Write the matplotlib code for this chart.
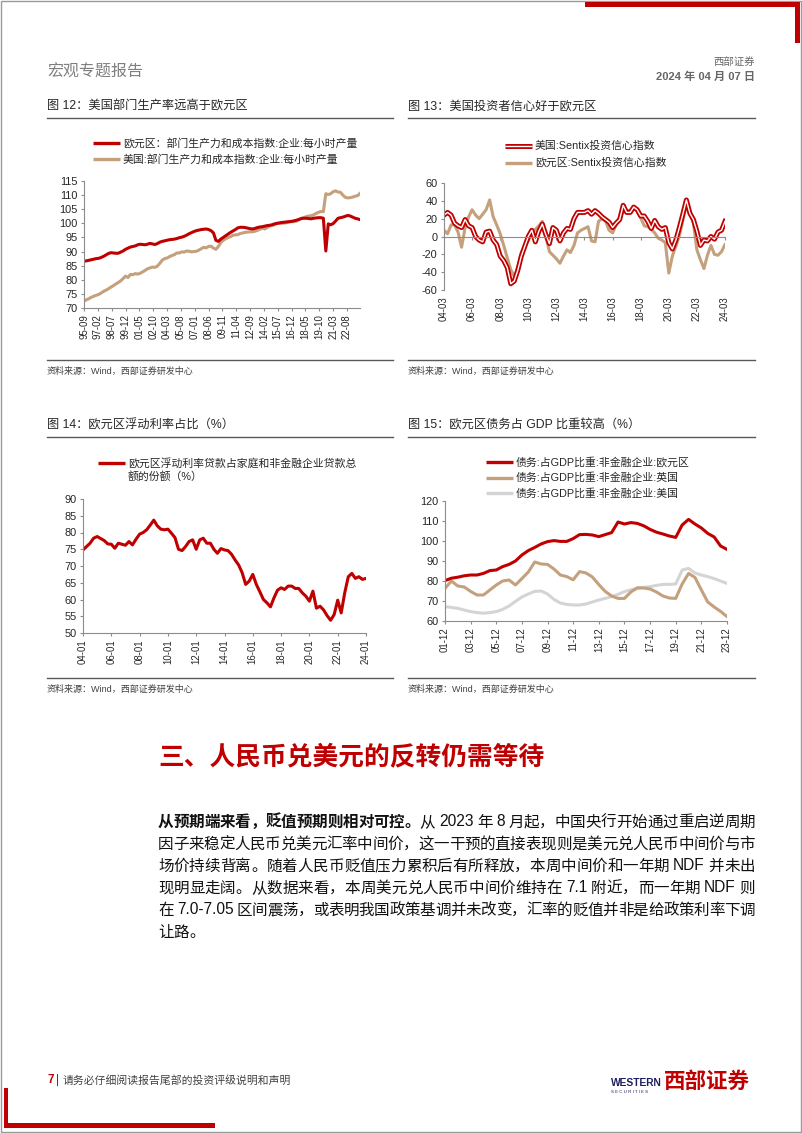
import re

import numpy as np
import pandas as pd
import matplotlib
matplotlib.use("Agg")
import matplotlib.pyplot as plt
import matplotlib.patheffects as pe
from matplotlib.lines import Line2D
from matplotlib.patches import Rectangle

# ---------------- data ----------------
# Fig 12: productivity, quarterly from 1995-09
prod_start = "1995-09"
prod_euro = [86.6, 86.7,
             86.9, 87.1, 87.3, 87.5, 87.6, 87.9, 88.3, 88.8, 89.3, 89.6, 89.5, 89.4,
             89.4, 89.8, 90.2, 90.8, 91.2, 91.6, 91.8, 92.0, 92.4, 92.6, 92.5, 92.4,
             92.6, 92.9, 92.7, 92.5, 92.8, 93.3, 93.6, 93.8, 94.0, 94.2, 94.3, 94.4,
             94.6, 94.9, 95.1, 95.4, 95.8, 96.3, 96.7, 97.1, 97.4, 97.6, 97.8, 97.9,
             98.0, 97.8, 97.4, 96.6, 94.0, 93.6, 94.4, 95.0, 95.6, 96.2, 96.8, 97.3,
             97.8, 98.4, 98.6, 98.6, 98.5, 98.3, 98.1, 98.0, 98.2, 98.5, 98.7, 98.8,
             99.0, 99.2, 99.3, 99.5, 99.8, 100.0, 100.1, 100.3, 100.4, 100.5, 100.6, 100.7,
             100.9, 101.1, 101.4, 101.7, 101.8, 101.8, 101.7, 101.6, 101.8, 101.9, 102.0, 102.0,
             101.8, 90.2, 99.8, 99.5, 99.9, 100.8, 101.8, 102.0, 102.2, 102.5, 102.8, 102.6,
             102.2, 101.8, 101.6, 101.3]
prod_us = [72.5, 72.9,
           73.3, 73.8, 74.2, 74.5, 74.8, 75.3, 75.9, 76.3, 76.8, 77.4, 77.9, 78.5,
           79.0, 79.6, 80.4, 81.3, 80.8, 81.9, 81.8, 82.2, 82.0, 82.3, 82.8, 83.3,
           83.9, 84.2, 84.5, 84.4, 84.8, 85.8, 86.9, 87.5, 87.7, 88.2, 88.6, 88.9,
           89.5, 89.5, 89.9, 89.8, 90.2, 90.1, 89.9, 90.0, 90.1, 90.5, 91.0, 91.5,
           91.3, 91.8, 91.9, 91.2, 90.8, 91.8, 93.2, 94.0, 94.5, 95.0, 95.3, 95.8,
           95.9, 96.0, 96.4, 96.6, 96.8, 96.9, 97.0, 97.0, 97.2, 97.5, 97.9, 98.3,
           98.0, 98.5, 99.1, 99.2, 99.5, 99.9, 100.2, 100.0, 100.1, 100.2, 100.5, 100.6,
           100.6, 100.8, 101.3, 101.8, 102.0, 102.4, 102.6, 102.7, 103.0, 103.5, 103.9, 104.2,
           104.1, 110.5, 110.2, 110.5, 111.2, 111.5, 111.1, 111.0, 110.0, 109.2, 109.0, 109.1,
           109.3, 109.6, 109.8, 110.6]
prod_ticks = ["95-09", "97-02", "98-07", "99-12", "01-05", "02-10", "04-03", "05-08",
              "07-01", "08-06", "09-11", "11-04", "12-09", "14-02", "15-07", "16-12",
              "18-05", "19-10", "21-03", "22-08"]

# Fig 13: Sentix, quarterly from 2004-03
sentix_start = "2004-03"
sentix_us = [24, 27, 24, 15, 12, 10, 19, 12, 10, 0, -4, -6, 5, 6, -4, -9,
             -22, -27, -35, -53, -50, -38, -22, -11, 0, 7, -6, 6, 14, 2, -8, 10,
             7, -5, 4, 9, 8, 20, 27, 27, 27, 29, 25, 29, 26, 22, 19, 16,
             10, 15, 19, 35, 27, 27, 33, 30, 23, 23, 17, 9, 18, 11, 8, 10,
             -7, -14, -4, 10, 25, 41, 26, 19, 6, -10, -4, -5, 0, -3, 5, 7, 17]
sentix_eu = [7, 3, 13, 13, 5, -12, 10, 22, 30, 24, 20, 25, 30, 41, 22, 13,
             3, -10, -24, -37, -45, -35, -18, -10, -5, 3, 8, 12, 17, 0, -17, -21,
             -25, -30, -22, -15, -18, -10, 4, 7, 9, 11, -5, -6, 17, 20, 17, 7,
             4, 13, 22, 28, 29, 29, 32, 30, 21, 12, 11, 8, 4, -2, -4, -7,
             -41, -22, -11, 1, 18, 36, 27, 15, -15, -26, -36, -21, -10, -20, -21, -17, -9]
sentix_ticks = ["04-03", "06-03", "08-03", "10-03", "12-03", "14-03", "16-03",
                "18-03", "20-03", "22-03", "24-03"]

# Fig 14: euro area floating-rate loan share (%), quarterly from 2004-01
float_start = "2004-01"
float_share = [74.8, 75.8, 76.8, 78.3, 78.8, 78.2, 77.6, 76.6, 76.5, 75.3, 76.8, 76.5,
               76.2, 77.3, 76.3, 78.0, 79.5, 80.0, 80.8, 82.2, 83.7, 82.0, 81.0, 80.8,
               81.0, 79.8, 78.5, 75.0, 74.6, 75.8, 77.3, 77.8, 75.0, 77.8, 78.3, 76.8,
               76.8, 75.0, 73.8, 75.2, 74.8, 74.6, 73.5, 71.8, 70.3, 68.0, 64.5, 65.5,
               67.5, 64.5, 62.3, 60.0, 59.0, 57.8, 60.5, 62.8, 63.5, 63.0, 64.0, 64.0,
               63.3, 63.3, 62.0, 61.0, 59.5, 62.5, 57.4, 58.0, 56.9, 55.2, 53.8, 55.5,
               59.8, 56.0, 62.0, 66.8, 67.8, 66.3, 66.8, 66.0, 66.3]
float_ticks = ["04-01", "06-01", "08-01", "10-01", "12-01", "14-01", "16-01",
               "18-01", "20-01", "22-01", "24-01"]

# Fig 15: non-financial corporate debt / GDP (%), half-yearly from 2001-12
debt_start = "2001-12"
debt_euro = [80.2, 81.4, 81.9, 82.6, 83.0, 83.0, 83.8, 85.2, 85.5, 87.2, 88.3, 90.0,
             93.0, 95.2, 96.8, 98.5, 99.7, 100.2, 99.8, 99.8, 101.2, 103.2, 103.3, 103.0,
             102.2, 103.2, 104.2, 109.5, 108.5, 109.2, 108.8, 107.6, 105.8, 104.4, 103.5, 102.5,
             101.8, 108.0, 110.8, 108.5, 106.5, 103.8, 102.0, 97.5, 95.8]
debt_uk = [76.3, 80.0, 77.5, 77.0, 74.8, 73.0, 73.0, 75.5, 78.0, 80.0, 80.5, 78.0,
           81.2, 84.5, 89.5, 88.5, 88.3, 86.0, 83.0, 82.2, 80.6, 84.7, 84.0, 82.0,
           78.2, 74.8, 72.5, 71.3, 71.3, 74.5, 76.6, 76.5, 76.0, 74.5, 72.5, 71.5,
           71.3, 78.5, 83.8, 81.8, 75.5, 69.5, 67.0, 64.8, 62.2]
debt_us = [67.2, 66.8, 66.3, 65.5, 64.7, 64.2, 63.9, 64.2, 64.7, 65.8, 67.5, 69.8,
           72.0, 73.5, 74.8, 75.0, 73.5, 70.8, 69.0, 68.3, 68.0, 68.0, 68.5, 69.5,
           70.5, 71.3, 72.2, 73.3, 74.7, 75.6, 76.3, 76.8, 77.2, 77.8, 78.3, 78.3,
           78.5, 85.5, 86.3, 84.0, 83.0, 82.2, 81.2, 80.0, 78.8]
debt_ticks = ["01-12", "03-12", "05-12", "07-12", "09-12", "11-12", "13-12",
              "15-12", "17-12", "19-12", "21-12", "23-12"]

body_lines = [
    [("从预期端来看，贬值预期则相对可控。", "bold"),
     ("从 2023 年 8 月起，中国央行开始通过重启逆周期", "normal")],
    [("因子来稳定人民币兑美元汇率中间价，这一干预的直接表现则是美元兑人民币中间价与市", "normal")],
    [("场价持续背离。随着人民币贬值压力累积后有所释放，本周中间价和一年期 NDF 并未出", "normal")],
    [("现明显走阔。从数据来看，本周美元兑人民币中间价维持在 7.1 附近，而一年期 NDF 则", "normal")],
    [("在 7.0-7.05 区间震荡，或表明我国政策基调并未改变，汇率的贬值并非是给政策利率下调", "normal")],
    [("让路。", "normal")],
]

# ---------------- style ----------------
W, H = 802, 1133
RED = "#C00000"
TAN = "#C4A07C"
LIGHT = "#D4D4D4"
AXIS = "#8C8C8C"
INK = "#262626"

plt.rcParams["font.family"] = ["Liberation Sans", "Noto Sans CJK SC"]
plt.rcParams["axes.unicode_minus"] = False

fig = plt.figure(figsize=(W / 100, H / 100), dpi=100)


def fx(x):
    return x / W


def fy(y):
    return 1 - y / H


def tick_dates(labels):
    out = []
    for lab in labels:
        yy, mm = lab.split("-")
        century = 1900 if int(yy) > 50 else 2000
        out.append(pd.Timestamp(century + int(yy), int(mm), 1))
    return out


def make_axes(x0, y0, x1, y1):
    ax = fig.add_axes([fx(x0), fy(y1), (x1 - x0) / W, (y1 - y0) / H])
    ax.set_facecolor("none")
    for side in ("top", "right"):
        ax.spines[side].set_visible(False)
    for side in ("left", "bottom"):
        ax.spines[side].set_color(AXIS)
        ax.spines[side].set_linewidth(0.8)
    ax.tick_params(colors=AXIS, length=2.5, width=0.8, labelcolor=INK)
    ax.tick_params(axis="y", labelsize=7.9, pad=2)
    ax.tick_params(axis="x", labelsize=6.9, pad=2, labelrotation=90)
    return ax


def set_date_axis(ax, dates, labels):
    ticks = tick_dates(labels)
    ax.set_xticks(ticks)
    ax.set_xticklabels(labels)
    ax.set_xlim(dates[0], dates[-1])


def legend_entry(x, y, color, label, lw=2.4, effects=None, size=7.8):
    ln = Line2D([fx(x), fx(x + 27)], [fy(y), fy(y)], transform=fig.transFigure,
                color=color, lw=lw, solid_capstyle="butt")
    if effects:
        ln.set_path_effects(effects)
    fig.add_artist(ln)
    fig.text(fx(x + 30), fy(y), label, fontsize=size, va="center", ha="left", color=INK)


def hline(x0, x1, y, color="#595959", lw=1.0):
    fig.add_artist(Line2D([fx(x0), fx(x1)], [fy(y), fy(y)], transform=fig.transFigure,
                          color=color, lw=lw))


def block(x0, y0, x1, y1, color):
    fig.add_artist(Rectangle((fx(x0), fy(y1)), (x1 - x0) / W, (y1 - y0) / H,
                             transform=fig.transFigure, color=color, lw=0))


# ---------------- page frame & header ----------------
fig.add_artist(Rectangle((0.001, 0.001), 0.998, 0.998, transform=fig.transFigure,
                         fill=False, edgecolor="#9A9A9A", lw=1.0))
block(585, 2, 800, 7, RED)
block(795, 2, 800, 43, RED)
block(4, 1088, 8, 1128, RED)
block(4, 1123, 215, 1128, RED)

fig.text(fx(47), fy(72), "宏观专题报告", fontsize=11.5, color="#7F7F7F", va="center")
fig.text(fx(755), fy(62), "西部证券", fontsize=7.5, color="#666666", va="center", ha="right")
fig.text(fx(755), fy(77), "2024 年 04 月 07 日", fontsize=8, color="#666666",
         va="center", ha="right", fontweight="bold")

# titles, rules and sources
titles = [(47, 107, "图 12：美国部门生产率远高于欧元区"),
          (408, 107, "图 13：美国投资者信心好于欧元区"),
          (47, 426, "图 14：欧元区浮动利率占比（%）"),
          (408, 426, "图 15：欧元区债务占 GDP 比重较高（%）")]
for x, y, t in titles:
    fig.text(fx(x), fy(y), t, fontsize=8.8, color=INK, va="center")
for x0, x1 in [(47, 393), (408, 755)]:
    hline(x0, x1, 118)
    hline(x0, x1, 437)
    hline(x0, x1, 360)
    hline(x0, x1, 678)
    fig.text(fx(x0), fy(371), "资料来源：Wind，西部证券研发中心", fontsize=6.5, color="#404040", va="center")
    fig.text(fx(x0), fy(689), "资料来源：Wind，西部证券研发中心", fontsize=6.5, color="#404040", va="center")

# ---------------- Fig 12 ----------------
ax = make_axes(84, 181, 360, 308)
d = pd.date_range(prod_start, periods=len(prod_euro), freq="3MS")
ax.plot(d, prod_us, color=TAN, lw=2.2)
ax.plot(d, prod_euro, color=RED, lw=2.2)
ax.set_ylim(70, 115)
ax.set_yticks(np.arange(70, 116, 5))
set_date_axis(ax, d, prod_ticks)
legend_entry(93, 143, RED, "欧元区：部门生产力和成本指数:企业:每小时产量")
legend_entry(93, 159, TAN, "美国:部门生产力和成本指数:企业:每小时产量")

# ---------------- Fig 13 ----------------
ax = make_axes(444, 183, 725, 290)
d = pd.date_range(sentix_start, periods=len(sentix_us), freq="3MS")
ax.plot(d, sentix_eu, color=TAN, lw=2.2)
outline = [pe.Stroke(linewidth=3.6, foreground=RED), pe.Normal()]
ax.plot(d, sentix_us, color="white", lw=1.0, path_effects=outline)
ax.set_ylim(-60, 60)
ax.set_yticks(np.arange(-60, 61, 20))
ax.spines["bottom"].set_position(("data", 0))
set_date_axis(ax, d, sentix_ticks)
ax.tick_params(axis="x", pad=40.5)
legend_entry(505, 146, "white", "美国:Sentix投资信心指数", lw=1.0, effects=outline)
legend_entry(505, 163, TAN, "欧元区:Sentix投资信心指数")

# ---------------- Fig 14 ----------------
ax = make_axes(83, 499, 366, 633)
d = pd.date_range(float_start, periods=len(float_share), freq="3MS")
ax.plot(d, float_share, color=RED, lw=2.2)
ax.set_ylim(50, 90)
ax.set_yticks(np.arange(50, 91, 5))
set_date_axis(ax, d, float_ticks)
legend_entry(98, 463, RED, "欧元区浮动利率贷款占家庭和非金融企业贷款总")
fig.text(fx(128), fy(477), "额的份额（%）", fontsize=7.8, va="center", color=INK)

# ---------------- Fig 15 ----------------
ax = make_axes(445, 501, 727, 621)
d = pd.date_range(debt_start, periods=len(debt_euro), freq="6MS")
ax.plot(d, debt_us, color=LIGHT, lw=2.2)
ax.plot(d, debt_uk, color=TAN, lw=2.2)
ax.plot(d, debt_euro, color=RED, lw=2.2)
ax.set_ylim(60, 120)
ax.set_yticks(np.arange(60, 121, 10))
set_date_axis(ax, d, debt_ticks)
legend_entry(486, 462, RED, "债务:占GDP比重:非金融企业:欧元区")
legend_entry(486, 478, TAN, "债务:占GDP比重:非金融企业:英国")
legend_entry(486, 493, LIGHT, "债务:占GDP比重:非金融企业:美国")

# ---------------- section text ----------------
fig.text(fx(158), fy(757), "三、人民币兑美元的反转仍需等待", fontsize=18.5, color=RED,
         fontweight="bold", va="center")

renderer = fig.canvas.get_renderer()
TOKEN = re.compile(r"[A-Za-z0-9.\-]+|\s+|.")
BODY_SIZE = 11.2


def draw_line(segments, x0, x1, y, justify=True):
    items = []
    for text, weight in segments:
        for tok in TOKEN.findall(text):
            items.append((tok, weight))
    arts, widths = [], []
    for tok, weight in items:
        if tok.isspace():
            arts.append(None)
            widths.append(BODY_SIZE * 1.39 * 0.25)
            continue
        t = fig.text(0, fy(y), tok, fontsize=BODY_SIZE, fontweight=weight,
                     color="#111111", va="center", ha="left")
        arts.append(t)
        widths.append(t.get_window_extent(renderer).width)
    gap = 0.0
    if justify and len(items) > 1:
        gap = (x1 - x0 - sum(widths)) / (len(items) - 1)
    x = x0
    for t, w in zip(arts, widths):
        if t is not None:
            t.set_x(fx(x))
        x += w + gap


line_y = [822, 844, 866, 888, 910, 932]
for i, (segs, y) in enumerate(zip(body_lines, line_y)):
    draw_line(segs, 158, 755, y, justify=(i < len(body_lines) - 1))

# ---------------- footer ----------------
fig.text(fx(47), fy(1080), "7", fontsize=8.5, color=RED, fontweight="bold", va="center")
fig.text(fx(56), fy(1080), "|", fontsize=8.5, color="#404040", va="center")
fig.text(fx(63), fy(1080), "请务必仔细阅读报告尾部的投资评级说明和声明", fontsize=7.8,
         color="#404040", va="center")
fig.text(fx(611), fy(1083), "WESTERN", fontsize=7.4, color="#1F1F5F", fontweight="bold", va="center")
fig.text(fx(611), fy(1092), "S E C U R I T I E S", fontsize=3.2, color="#1F1F5F", va="center")
fig.text(fx(664), fy(1082), "西部证券", fontsize=15.5, color=RED, fontweight="bold", va="center")

fig.savefig("out.png", dpi=100)
